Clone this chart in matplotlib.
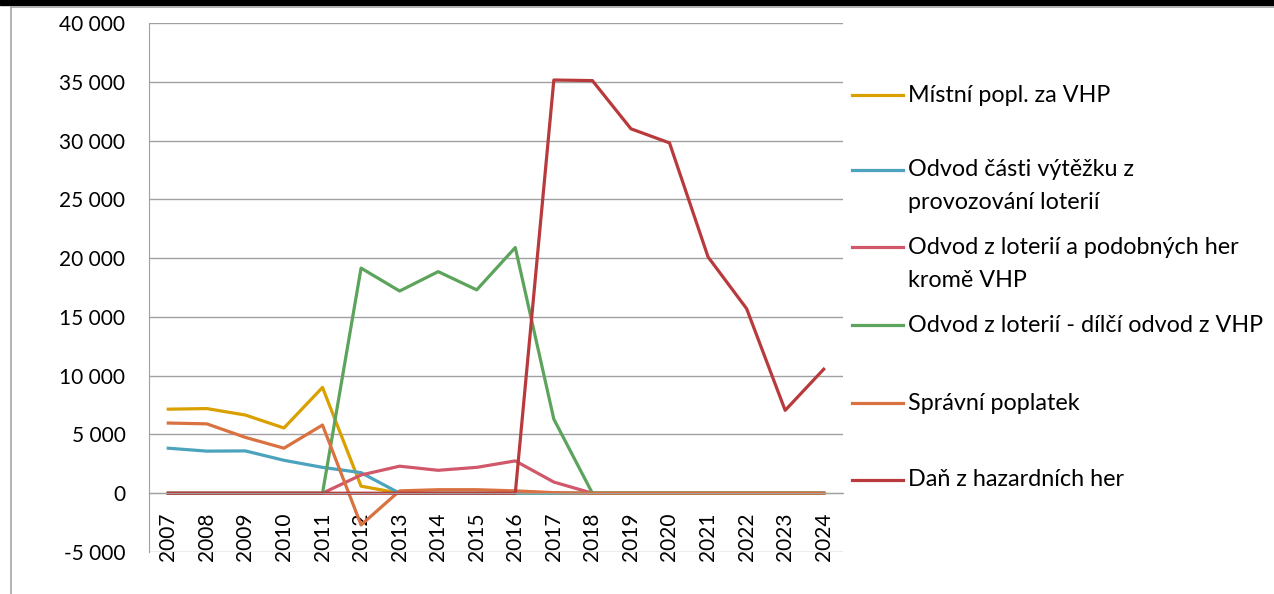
import matplotlib.pyplot as plt
from matplotlib.lines import Line2D
from matplotlib.patches import Rectangle
from matplotlib.ticker import FuncFormatter, MultipleLocator

plt.rcParams['font.family'] = ['Lato', 'DejaVu Sans']

years = [str(y) for y in range(2007, 2025)]

mistni = [7150, 7200, 6650, 5550, 9000, 600, 0, 0, 0, 0, 0, 0, 0, 0, 0, 0, 0, 0]
vytezek = [3830, 3580, 3600, 2800, 2200, 1750, 0, 0, 0, 0, 0, 0, 0, 0, 0, 0, 0, 0]
loterie = [0, 0, 0, 0, 0, 1550, 2300, 1950, 2200, 2750, 950, 0, 0, 0, 0, 0, 0, 0]
dilci = [0, 0, 0, 0, 0, 19150, 17200, 18850, 17300, 20900, 6300, 0, 0, 0, 0, 0, 0, 0]
spravni = [5970, 5900, 4750, 3830, 5800, -2700, 200, 300, 300, 200, 50, 0, 0, 0, 0, 0, 0, 0]
dan = [0, 0, 0, 0, 0, 0, 0, 0, 0, 0, 35150, 35100, 31000, 29800, 20100, 15700, 7050, 10550]

series = [
    ("Místní popl. za VHP", mistni, "#D9A000"),
    ("Odvod části výtěžku z\nprovozování loterií", vytezek, "#4BA3BE"),
    ("Odvod z loterií a podobných her\nkromě VHP", loterie, "#D0586A"),
    ("Odvod z loterií - dílčí odvod z VHP", dilci, "#5CA35C"),
    ("Správní poplatek", spravni, "#D97141"),
    ("Daň z hazardních her", dan, "#B83A3C"),
]

W, H = 1274, 594
fig = plt.figure(figsize=(W / 100, H / 100), dpi=100)
ax = fig.add_axes([149 / W, 1 - 552 / H, (843 - 149) / W, (552 - 23) / H])

grid_col = "#A0A0A0"
ax.spines["bottom"].set_position(("data", 0))
ax.spines["bottom"].set_color(grid_col)
ax.spines["left"].set_color(grid_col)
ax.spines["right"].set_visible(False)
ax.spines["top"].set_visible(False)

x = list(range(len(years)))
for label, vals, col in series:
    ax.plot(x, vals, color=col, lw=2.3)

ax.set_xlim(-0.5, len(years) - 0.5)
ax.set_ylim(-5000, 40000)
ax.yaxis.set_major_locator(MultipleLocator(5000))
ax.yaxis.set_major_formatter(FuncFormatter(lambda v, p: f"{int(v):,}".replace(",", " ")))
ax.grid(axis="y", color=grid_col, lw=1)
ax.set_axisbelow(True)

ax.set_xticks(x)
ax.set_xticklabels(years)
ax.tick_params(axis="x", length=0, pad=14, labelrotation=90, labelsize=15)
ax.tick_params(axis="y", length=0, pad=17, labelsize=15)

# legend drawn by hand to follow the reference spacing
leg_y = [95, 170, 247, 325, 403, 480]
for (label, vals, col), yy in zip(series, leg_y):
    fy = 1 - yy / H
    fig.add_artist(Line2D([852 / W, 903 / W], [fy, fy], color=col, lw=2.3,
                          transform=fig.transFigure))
    for k, line in enumerate(label.split("\n")):
        fig.text(908 / W, 1 - (yy + 33 * k) / H, line, fontsize=16.8,
                 va="center", ha="left")

# screenshot frame
fig.add_artist(Rectangle((0, 1 - 5 / H), 1, 5 / H, color="black",
                         transform=fig.transFigure))
fig.add_artist(Line2D([11 / W, 1], [1 - 7 / H, 1 - 7 / H], color="#A8A8A8", lw=1.2,
                      transform=fig.transFigure))
fig.add_artist(Line2D([11 / W, 11 / W], [0, 1 - 7 / H], color="#A8A8A8", lw=1.2,
                      transform=fig.transFigure))

fig.savefig("out.png", dpi=100)
